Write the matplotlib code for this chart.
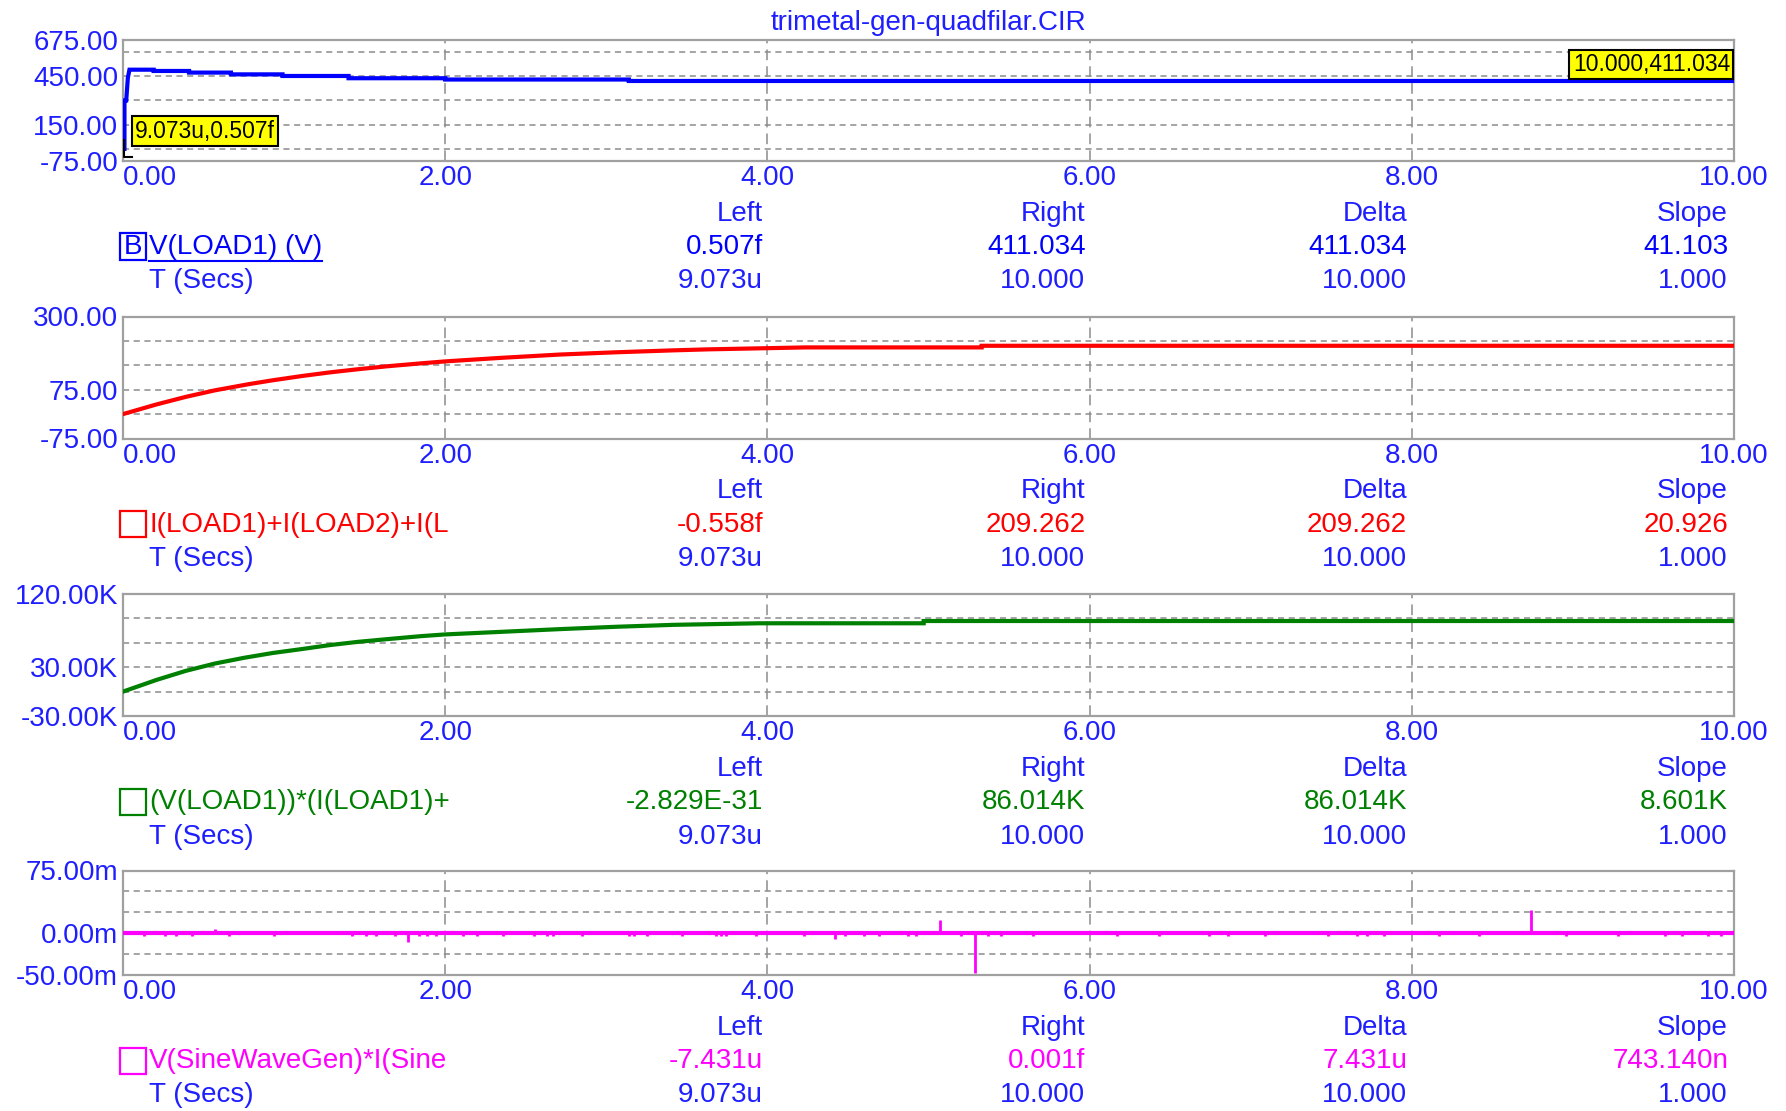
import matplotlib
matplotlib.use('Agg')
import matplotlib.pyplot as plt
from matplotlib.patches import Rectangle
from matplotlib.lines import Line2D

plt.rcParams['font.family'] = ['Liberation Sans', 'DejaVu Sans']

W, H = 1786, 1111
FS = 20
BLUE = '#1e1eff'
GRID = '#8c8c8c'

title = 'trimetal-gen-quadfilar.CIR'

# time axis (s)
x_ticks = [0, 2, 4, 6, 8, 10]
x_labels = ['0.00', '2.00', '4.00', '6.00', '8.00', '10.00']

# V(LOAD1) in volts, stair-stepped
v_t = [0, 0.009, 0.009, 0.02, 0.03, 0.04, 0.19, 0.19, 0.41, 0.41, 0.67, 0.67,
       0.99, 0.99, 1.40, 1.40, 2.00, 2.00, 3.14, 3.14, 10.0]
v_val = [0, 0, 300, 300, 440, 491, 491, 483, 483, 473, 473, 462, 462, 452,
         452, 438, 438, 430, 430, 421, 421]

# I(LOAD1)+I(LOAD2)+...
i_t = [0, 0.21, 0.39, 0.57, 0.78, 0.93, 1.11, 1.28, 1.46, 1.64, 1.85, 2.0,
       2.35, 2.71, 3.06, 3.42, 3.63, 4.24, 5.33, 5.33, 10.0]
i_val = [0, 30, 53, 73, 92, 104, 117, 128, 138, 147, 156, 162, 173, 183, 190,
         196, 199, 205, 205, 210, 210]

# power, in K
p_t = [0, 0.21, 0.39, 0.57, 0.75, 0.93, 1.11, 1.28, 1.46, 1.64, 1.85, 2.0,
       2.35, 2.71, 3.06, 3.42, 3.95, 4.97, 4.97, 10.0]
p_val = [0, 14.5, 25.5, 34.5, 41.5, 47.5, 52.3, 57.1, 61.2, 64.5, 68.2, 70.3,
         73.5, 76.8, 79.7, 82.1, 84.0, 84.0, 86.8, 86.8]

# sine gen power, in m: flat zero with glitches
s_t = [0, 10.0]
s_val = [0, 0]
spike_t = [0.13, 0.26, 0.33, 0.43, 0.57, 0.66, 0.94, 1.42, 1.51, 1.57, 1.69, 1.77,
           1.84, 1.89, 1.94, 2.11, 2.20, 2.36, 2.55, 2.63, 2.67, 2.85, 3.14, 3.17,
           3.25, 3.47, 3.68, 3.71, 3.74, 3.93, 4.23, 4.42, 4.48, 4.60, 4.69, 4.87,
           4.92, 5.07, 5.20, 5.29, 5.37, 5.45, 5.65, 6.00, 6.17, 6.43, 6.59, 6.74,
           6.86, 7.09, 7.48, 7.66, 7.72, 7.83, 7.99, 8.17, 8.42, 8.74, 8.96, 9.28,
           9.57, 9.68, 9.84, 9.92]
spike_v = [-3, -3, -3, -3, 5, -3, -3, -3, -3, -3, -3, -10,
           -3, -3, -3, -3, -3, -3, -3, -3, -3, -3, -3, -3,
           -3, -3, -3, -3, -3, -3, -3, -7, -3, -3, -3, -3,
           -3, 16, -3, -48, -3, -3, -3, 3, -3, -3, 2, -3,
           -3, -3, -3, -3, -3, -3, 3, -3, -3, 28, -3, -3,
           -3, -3, -3, -3]

panels = [
    dict(top=40, bot=161, ylim=(-75, 675), grid=[0, 150, 300, 450, 600],
         yt=[-75, 150, 450, 675], ytl=['-75.00', '150.00', '450.00', '675.00'],
         color='#0000ff', name='V(LOAD1) (V)',
         vals=['0.507f', '411.034', '411.034', '41.103']),
    dict(top=316.5, bot=438.5, ylim=(-75, 300), grid=[0, 75, 150, 225],
         yt=[-75, 75, 300], ytl=['-75.00', '75.00', '300.00'],
         color='#ff0000', name='I(LOAD1)+I(LOAD2)+I(L',
         vals=['-0.558f', '209.262', '209.262', '20.926']),
    dict(top=594, bot=716, ylim=(-30, 120), grid=[0, 30, 60, 90],
         yt=[-30, 30, 120], ytl=['-30.00K', '30.00K', '120.00K'],
         color='#008000', name='(V(LOAD1))*(I(LOAD1)+',
         vals=['-2.829E-31', '86.014K', '86.014K', '8.601K']),
    dict(top=870.5, bot=975, ylim=(-50, 75), grid=[-25, 0, 25, 50],
         yt=[-50, 0, 75], ytl=['-50.00m', '0.00m', '75.00m'],
         color='#ff00ff', name='V(SineWaveGen)*I(Sine',
         vals=['-7.431u', '0.001f', '7.431u', '743.140n']),
]
series = [(v_t, v_val), (i_t, i_val), (p_t, p_val), (s_t, s_val)]

col_names = ['Left', 'Right', 'Delta', 'Slope']
t_vals = ['9.073u', '10.000', '10.000', '1.000']
col_x = [763, 1085.5, 1407, 1728]

X0, X1 = 123, 1734

def fx(x):
    return x / W

def fy(y):
    return 1 - y / H

fig = plt.figure(figsize=(W / 100, H / 100), dpi=100)
fig.text(fx((X0 + X1) / 2), fy(22.5), title, ha='center', va='center',
         color=BLUE, fontsize=FS)

axes = []
for k, p in enumerate(panels):
    ax = fig.add_axes([fx(X0), fy(p['bot']), (X1 - X0) / W, (p['bot'] - p['top']) / H])
    axes.append(ax)
    ax.set_xlim(0, 10)
    ax.set_ylim(*p['ylim'])
    for g in p['grid']:
        ax.axhline(g, color=GRID, lw=1.1, ls=(0, (4, 3)), zorder=1)
    for g in x_ticks[1:-1]:
        ax.axvline(g, color=GRID, lw=1.1, ls=(0, (7, 4)), zorder=1)
    for s in ax.spines.values():
        s.set_color('#a0a0a0')
        s.set_linewidth(1.6)
    ax.set_xticks(x_ticks)
    ax.set_xticklabels(x_labels)
    ax.set_yticks(p['yt'])
    ax.set_yticklabels(p['ytl'])
    ax.tick_params(length=0, labelsize=FS, labelcolor=BLUE)
    ax.tick_params(axis='x', pad=3)
    ax.tick_params(axis='y', pad=3.5)
    ax.get_xticklabels()[0].set_ha('left')

    t, v = series[k]
    ax.plot(t, v, color=p['color'], lw=3, zorder=3, solid_joinstyle='miter')

    # cursor readout rows
    b = p['bot']
    for cx, nm in zip(col_x, col_names):
        fig.text(fx(cx), fy(b + 53), nm, ha='right', va='center', color=BLUE, fontsize=FS)
    for cx, vv in zip(col_x, p['vals']):
        fig.text(fx(cx), fy(b + 86), vv, ha='right', va='center', color=p['color'], fontsize=FS)
    for cx, tv in zip(col_x, t_vals):
        fig.text(fx(cx), fy(b + 120.5), tv, ha='right', va='center', color=BLUE, fontsize=FS)
    fig.text(fx(149), fy(b + 120.5), 'T (Secs)', ha='left', va='center', color=BLUE, fontsize=FS)

    # legend square + trace name
    fig.patches.append(Rectangle((fx(120), fy(b + 98.5)), 26 / W, 26 / H,
                                 transform=fig.transFigure, fill=False,
                                 edgecolor=p['color'], lw=1.6))
    txt = fig.text(fx(149), fy(b + 86), p['name'], ha='left', va='center',
                   color=p['color'], fontsize=FS)
    if k == 0:
        fig.text(fx(133), fy(b + 86), 'B', ha='center', va='center', color=p['color'], fontsize=FS)
        fig.canvas.draw()
        ext = txt.get_window_extent()
        fig.lines.append(Line2D([fx(149), ext.x1 / W], [fy(b + 100)] * 2,
                                transform=fig.transFigure, color=p['color'], lw=1.5))

# glitches on the sine-gen trace
ax4 = axes[3]
ax4.vlines(spike_t, 0, spike_v, color=panels[3]['color'], lw=2, zorder=3)

# cursor markers on top panel
ax1 = axes[0]
box = dict(boxstyle='square,pad=0.15', fc='#ffff00', ec='black', lw=1.5)
ax1.plot([0.009, 0.009, 0.056], [55, -49, -49], color='black', lw=1.5, zorder=4)
ax1.annotate('9.073u,0.507f', xy=(v_t[0], v_val[0]), xytext=(12, 6),
             textcoords='offset pixels', ha='left', va='bottom', fontsize=16.5,
             bbox=box, zorder=5)
ax1.annotate('10.000,411.034', xy=(v_t[-1], v_val[-1]), xytext=(-4, 5),
             textcoords='offset pixels', ha='right', va='bottom', fontsize=16.5,
             bbox=box, zorder=5)

fig.savefig('out.png', dpi=100)
